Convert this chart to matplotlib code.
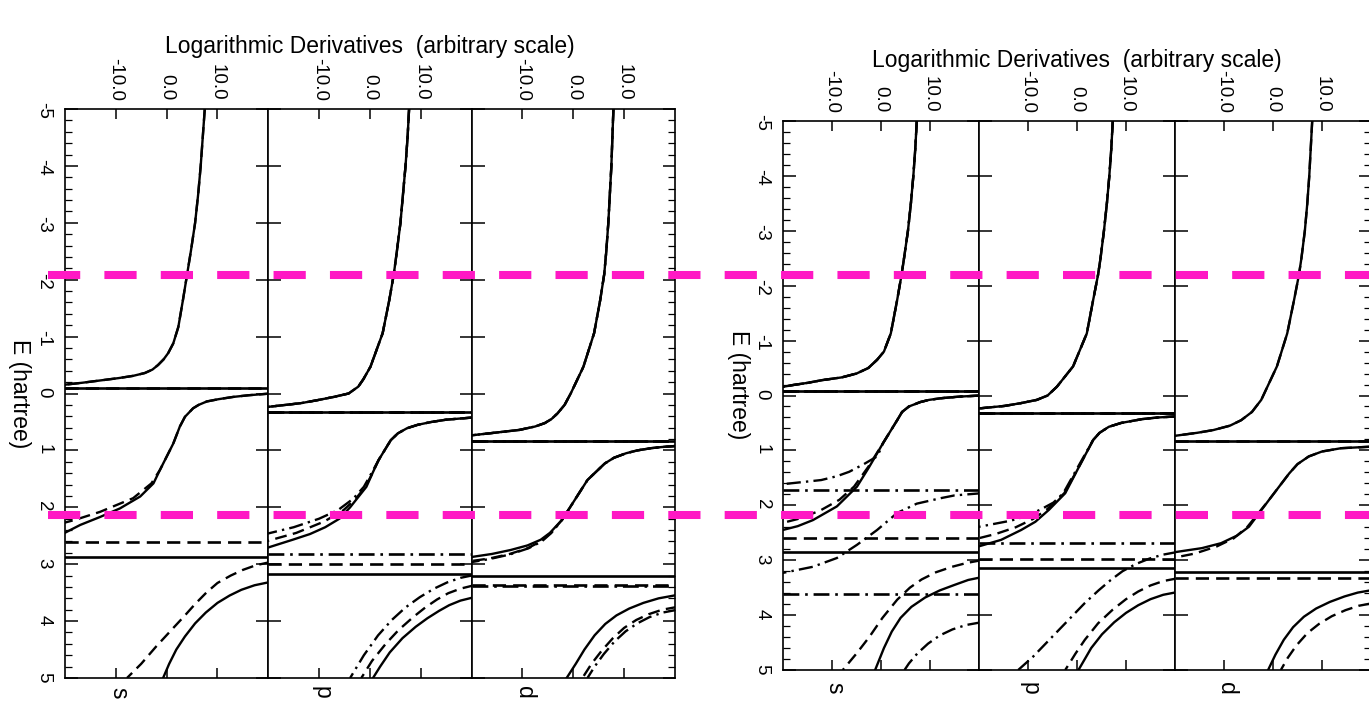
import matplotlib.pyplot as plt
from matplotlib.lines import Line2D
from matplotlib.ticker import MultipleLocator

plt.rcParams['font.family'] = ['Liberation Sans', 'DejaVu Sans']
plt.rcParams['axes.unicode_minus'] = False

orbitals = ['s', 'p', 'd']
x_ticks = [-10, 0, 10]
x_tick_labels = ['-10.0', '0.0', '10.0']
e_ticks = [-5, -4, -3, -2, -1, 0, 1, 2, 3, 4, 5]
e_tick_labels = ['-5', '-4', '-3', '-2', '-1', '0', '1', '2', '3', '4', '5']
title = 'Logarithmic Derivatives  (arbitrary scale)'

# ---------------------------------------------------------------------------
# left figure: branches of the log. derivative, E in hartree
# ---------------------------------------------------------------------------
# s
lft_s_solid_E = [[-5.0, -4.5, -4.0, -3.5, -3.0, -2.52, -2.08, -1.64, -1.17, -0.88, -0.71, -0.6, -0.5, -0.42, -0.36, -0.31, -0.27, -0.23, -0.19, -0.15],
                 [0.0, 0.03, 0.06, 0.1, 0.14, 0.2, 0.26, 0.41, 0.58, 0.88, 1.11, 1.34, 1.58, 1.81, 2.02, 2.17, 2.31, 2.47],
                 [3.31, 3.37, 3.45, 3.55, 3.68, 3.85, 4.04, 4.27, 4.5, 4.75, 5.0]]
lft_s_solid_L = [[7.5, 7.1, 6.7, 6.2, 5.6, 4.8, 4.0, 3.2, 2.3, 1.3, 0.3, -0.6, -1.7, -2.8, -4.3, -6.6, -9.5, -13.0, -16.5, -20.5],
                 [20.5, 16.2, 13.1, 10.2, 7.9, 6.3, 5.2, 3.6, 2.6, 1.3, 0.0, -1.3, -2.6, -5.2, -9.2, -13.1, -17.0, -20.5],
                 [20.5, 17.3, 14.7, 12.4, 10.0, 7.7, 5.6, 3.6, 1.9, 0.5, -0.7]]
lft_s_solid_poles = [-0.10, 2.87]

lft_s_dash_E = [lft_s_solid_E[0],
                [0.0, 0.03, 0.06, 0.1, 0.14, 0.2, 0.26, 0.41, 0.58, 0.88, 1.11, 1.34, 1.58, 1.84, 2.08, 2.22, 2.28],
                [2.96, 3.02, 3.1, 3.2, 3.33, 3.5, 3.7, 3.9, 4.15, 4.45, 4.75, 5.0]]
lft_s_dash_L = [lft_s_solid_L[0],
                [20.5, 16.2, 13.1, 10.2, 7.9, 6.3, 5.2, 3.6, 2.6, 1.3, 0.0, -1.3, -3.0, -6.6, -13.1, -18.0, -20.5],
                [20.5, 17.5, 15.0, 12.6, 10.0, 7.8, 5.6, 3.6, 1.0, -2.1, -5.0, -7.8]]
lft_s_dash_poles = [-0.10, 2.61]

# p
lft_p_solid_E = [[-5.0, -4.5, -4.0, -3.5, -3.0, -2.5, -2.1, -1.64, -1.06, -0.47, -0.25, -0.12, 0.0, 0.06, 0.12, 0.17, 0.24],
                 [0.42, 0.46, 0.5, 0.55, 0.61, 0.7, 0.82, 1.17, 1.4, 1.64, 2.0, 2.2, 2.35, 2.47, 2.57, 2.72],
                 [3.58, 3.64, 3.72, 3.82, 3.95, 4.1, 4.3, 4.55, 4.8, 5.0]]
lft_p_solid_L = [[7.7, 7.4, 7.0, 6.5, 6.0, 5.3, 4.7, 3.8, 2.5, 0.1, -1.3, -2.3, -4.2, -7.1, -10.5, -13.6, -20.5],
                 [20.5, 15.0, 12.1, 9.4, 7.3, 5.5, 4.1, 1.7, 0.5, -0.7, -3.9, -6.0, -8.8, -11.8, -15.2, -20.5],
                 [20.5, 17.8, 15.6, 13.6, 11.3, 9.0, 6.4, 3.9, 2.0, 0.6]]
lft_p_solid_poles = [0.32, 3.17]

lft_p_dash_E = [lft_p_solid_E[0],
                [0.42, 0.46, 0.5, 0.55, 0.61, 0.7, 0.82, 1.17, 1.4, 1.64, 1.85, 2.05, 2.25, 2.45, 2.6],
                [3.37, 3.43, 3.51, 3.62, 3.76, 3.93, 4.16, 4.4, 4.7, 5.0]]
lft_p_dash_L = [lft_p_solid_L[0],
                [20.5, 15.0, 12.1, 9.4, 7.3, 5.5, 4.1, 1.7, 0.5, -0.9, -2.8, -5.2, -9.0, -14.5, -20.5],
                [20.5, 17.8, 15.4, 13.2, 10.9, 8.5, 5.6, 3.1, 0.4, -1.7]]
lft_p_dash_poles = [0.32, 3.0]

lft_p_dashdot_E = [lft_p_solid_E[0],
                   [0.42, 0.46, 0.5, 0.55, 0.61, 0.7, 0.82, 1.17, 1.4, 1.64, 1.85, 2.05, 2.2, 2.35, 2.47],
                   [3.19, 3.24, 3.32, 3.43, 3.58, 3.76, 3.98, 4.25, 4.6, 5.0]]
lft_p_dashdot_L = [lft_p_solid_L[0],
                   [20.5, 15.0, 12.1, 9.4, 7.3, 5.5, 4.1, 1.7, 0.3, -1.2, -3.3, -6.3, -10.0, -15.0, -20.5],
                   [20.5, 17.8, 15.2, 12.6, 9.8, 7.0, 4.3, 1.6, -1.2, -3.9]]
lft_p_dashdot_poles = [0.32, 2.82]

# d
lft_d_solid_E = [[-5.0, -4.5, -4.0, -3.5, -3.0, -2.5, -2.1, -1.64, -1.06, -0.47, 0.0, 0.2, 0.35, 0.45, 0.52, 0.58, 0.64, 0.7, 0.74],
                 [0.92, 0.94, 0.96, 1.0, 1.05, 1.13, 1.23, 1.52, 1.87, 2.22, 2.45, 2.57, 2.67, 2.75, 2.82, 2.88],
                 [3.54, 3.6, 3.68, 3.78, 3.9, 4.05, 4.25, 4.5, 4.75, 5.0]]
lft_d_solid_L = [[7.9, 7.7, 7.5, 7.2, 6.9, 6.5, 6.1, 5.3, 4.1, 2.0, -0.5, -1.7, -3.1, -4.3, -5.6, -7.5, -10.6, -16.5, -20.5],
                 [20.5, 17.5, 15.4, 12.6, 10.4, 8.0, 6.2, 2.8, 0.3, -2.2, -4.6, -6.4, -9.0, -12.3, -16.0, -20.5],
                 [20.5, 16.8, 13.8, 11.0, 8.5, 6.3, 4.2, 2.2, 0.5, -1.3]]
lft_d_solid_poles = [0.83, 3.21]

lft_d_dash_E = [lft_d_solid_E[0],
                [0.92, 0.94, 0.96, 1.0, 1.05, 1.13, 1.23, 1.52, 1.87, 2.22, 2.45, 2.6, 2.72, 2.82, 2.9, 2.95],
                [3.75, 3.8, 3.88, 3.98, 4.12, 4.3, 4.52, 4.75, 5.0]]
lft_d_dash_L = [lft_d_solid_L[0],
                [20.5, 17.5, 15.4, 12.6, 10.4, 8.0, 6.2, 2.8, 0.3, -2.2, -4.4, -6.4, -9.0, -12.5, -16.5, -20.5],
                [20.5, 17.5, 14.8, 12.4, 10.0, 7.8, 5.6, 3.6, 1.8]]
lft_d_dash_poles = [0.83, 3.37]

lft_d_dashdot_E = [lft_d_solid_E[0],
                   [0.92, 0.94, 0.96, 1.0, 1.05, 1.13, 1.23, 1.52, 1.87, 2.22, 2.45, 2.6, 2.72, 2.83, 2.91, 2.97],
                   [3.8, 3.85, 3.93, 4.04, 4.18, 4.36, 4.58, 4.8, 5.0]]
lft_d_dashdot_L = [lft_d_solid_L[0],
                   [20.5, 17.5, 15.4, 12.6, 10.4, 8.0, 6.2, 2.8, 0.3, -2.2, -4.3, -6.2, -8.8, -12.5, -16.5, -20.5],
                   [20.5, 17.6, 15.0, 12.6, 10.3, 8.1, 6.0, 4.2, 2.8]]
lft_d_dashdot_poles = [0.83, 3.39]

# ---------------------------------------------------------------------------
# right figure
# ---------------------------------------------------------------------------
# s
rgt_s_solid_E = [[-5.0, -4.5, -4.0, -3.5, -3.0, -2.5, -2.2, -1.74, -1.13, -0.8, -0.65, -0.5, -0.4, -0.33, -0.28, -0.23, -0.19, -0.15],
                 [0.0, 0.02, 0.05, 0.08, 0.12, 0.2, 0.3, 0.45, 0.87, 1.3, 1.66, 2.02, 2.27, 2.38, 2.46],
                 [3.31, 3.36, 3.45, 3.55, 3.68, 3.85, 4.05, 4.3, 4.6, 5.0]]
rgt_s_solid_L = [[7.3, 7.0, 6.6, 6.1, 5.5, 4.7, 4.2, 3.3, 2.0, 0.6, -0.8, -2.6, -5.0, -8.0, -12.0, -15.0, -18.0, -20.5],
                 [20.5, 16.0, 12.2, 9.8, 8.0, 5.7, 4.3, 3.3, 0.4, -2.4, -4.9, -9.0, -13.9, -17.0, -20.5],
                 [20.5, 17.8, 15.0, 12.0, 9.0, 6.2, 4.0, 2.2, 0.6, -1.2]]
rgt_s_solid_poles = [-0.09, 2.85]

rgt_s_dash_E = [rgt_s_solid_E[0],
                [0.0, 0.02, 0.05, 0.08, 0.12, 0.2, 0.3, 0.45, 0.87, 1.3, 1.66, 1.9, 2.1, 2.25, 2.33],
                [3.0, 3.05, 3.12, 3.22, 3.35, 3.5, 3.72, 4.05, 4.4, 4.7, 5.0]]
rgt_s_dash_L = [rgt_s_solid_L[0],
                [20.5, 16.0, 12.2, 9.8, 8.0, 5.7, 4.3, 3.3, 0.4, -2.6, -5.5, -8.5, -12.5, -17.0, -20.5],
                [20.5, 17.5, 14.5, 11.2, 8.3, 5.9, 3.3, 0.3, -2.4, -5.0, -7.8]]
rgt_s_dash_poles = [-0.09, 2.60]

rgt_s_dashdot_E = [rgt_s_solid_E[0],
                   [0.0, 0.02, 0.05, 0.08, 0.12, 0.2, 0.3, 0.45, 0.87, 1.0, 1.11, 1.25, 1.39, 1.47, 1.54, 1.62],
                   [1.78, 1.82, 1.87, 1.97, 2.14, 2.45, 2.72, 2.96, 3.12, 3.24],
                   [4.13, 4.18, 4.26, 4.37, 4.52, 4.7, 4.88, 5.0]]
rgt_s_dashdot_L = [rgt_s_solid_L[0],
                   [20.5, 16.0, 12.2, 9.8, 8.0, 5.7, 4.3, 3.3, 0.4, -0.2, -0.8, -3.5, -6.5, -9.0, -12.2, -20.5],
                   [20.5, 15.0, 12.2, 7.3, 3.3, -0.8, -4.9, -9.0, -13.9, -20.5],
                   [20.5, 17.4, 14.6, 12.0, 9.6, 7.4, 5.7, 4.8]]
rgt_s_dashdot_poles = [-0.09, 1.73, 3.62]

# p
rgt_p_solid_E = [[-5.0, -4.5, -4.0, -3.5, -3.0, -2.5, -2.2, -1.74, -1.13, -0.53, -0.16, 0.0, 0.08, 0.14, 0.19, 0.24],
                 [0.38, 0.4, 0.43, 0.5, 0.57, 0.68, 0.81, 1.3, 1.78, 2.08, 2.3, 2.45, 2.63, 2.76],
                 [3.58, 3.63, 3.71, 3.82, 3.96, 4.13, 4.35, 4.6, 5.0]]
rgt_p_solid_L = [[7.3, 7.0, 6.6, 6.1, 5.5, 4.8, 4.3, 3.3, 2.0, -0.8, -4.1, -6.0, -8.2, -11.5, -14.8, -20.5],
                 [20.5, 16.5, 13.3, 9.0, 6.5, 4.6, 3.3, 0.4, -2.4, -5.7, -8.5, -11.4, -15.5, -20.5],
                 [20.5, 17.6, 15.0, 12.5, 10.0, 7.6, 5.1, 2.9, 0.3]]
rgt_p_solid_poles = [0.31, 3.15]

rgt_p_dash_E = [rgt_p_solid_E[0],
                [0.38, 0.4, 0.43, 0.5, 0.57, 0.68, 0.81, 1.3, 1.78, 2.08, 2.25, 2.4, 2.52, 2.61],
                [3.33, 3.38, 3.46, 3.57, 3.71, 3.9, 4.15, 4.45, 4.7, 5.0]]
rgt_p_dash_L = [rgt_p_solid_L[0],
                [20.5, 16.5, 13.3, 9.0, 6.5, 4.6, 3.3, 0.4, -2.6, -6.2, -9.0, -12.5, -16.5, -20.5],
                [20.5, 17.6, 15.0, 12.5, 10.0, 7.3, 4.3, 1.6, -0.3, -2.4]]
rgt_p_dash_poles = [0.31, 2.98]

rgt_p_dashdot_E = [rgt_p_solid_E[0],
                   [0.38, 0.4, 0.43, 0.5, 0.57, 0.68, 0.81, 1.3, 1.78, 1.95, 2.08, 2.2, 2.28, 2.4],
                   [2.85, 2.9, 2.97, 3.07, 3.2, 3.36, 3.55, 3.78, 4.27, 4.76, 5.0]]
rgt_p_dashdot_L = [rgt_p_solid_L[0],
                   [20.5, 16.5, 13.3, 9.0, 6.5, 4.6, 3.3, 0.2, -2.8, -4.8, -7.5, -10.5, -13.5, -20.5],
                   [20.5, 17.5, 14.8, 12.0, 9.3, 6.9, 4.4, 1.6, -3.7, -9.0, -12.0]]
rgt_p_dashdot_poles = [0.31, 2.68]

# d
rgt_d_solid_E = [[-5.0, -4.5, -4.0, -3.5, -3.0, -2.5, -2.2, -1.74, -1.13, -0.53, 0.08, 0.3, 0.45, 0.55, 0.63, 0.68, 0.74],
                 [0.93, 0.96, 1.02, 1.11, 1.25, 1.42, 1.9, 2.39, 2.55, 2.69, 2.78, 2.86],
                 [3.54, 3.59, 3.66, 3.76, 3.88, 4.03, 4.22, 4.45, 4.72, 5.0]]
rgt_d_solid_L = [[8.0, 7.7, 7.4, 7.0, 6.5, 5.8, 5.3, 4.3, 2.9, 0.8, -2.4, -4.3, -6.5, -8.8, -12.2, -15.5, -20.5],
                 [20.5, 13.9, 10.0, 7.3, 5.0, 3.3, -0.8, -4.9, -7.3, -10.6, -14.5, -20.5],
                 [20.5, 17.3, 14.6, 11.6, 8.8, 6.3, 4.1, 2.2, 0.5, -1.0]]
rgt_d_solid_poles = [0.82, 3.21]

rgt_d_dash_E = [rgt_d_solid_E[0],
                [0.93, 0.96, 1.02, 1.11, 1.25, 1.42, 1.9, 2.39, 2.6, 2.75, 2.88, 2.96],
                [3.78, 3.83, 3.91, 4.02, 4.16, 4.33, 4.55, 4.78, 5.0]]
rgt_d_dash_L = [rgt_d_solid_L[0],
                [20.5, 13.9, 10.0, 7.3, 5.0, 3.3, -0.8, -5.2, -8.0, -11.5, -16.0, -20.5],
                [20.5, 17.5, 14.8, 12.0, 9.4, 7.0, 4.8, 3.0, 1.6]]
rgt_d_dash_poles = [0.82, 3.33]

# line styles of the three potentials
SOLID = '-'
DASH = (0, (5.0, 2.7))
DASHDOT = (0, (6.0, 2.2, 1.0, 2.2))

left_panels = [
    [(lft_s_solid_E, lft_s_solid_L, lft_s_solid_poles, SOLID),
     (lft_s_dash_E, lft_s_dash_L, lft_s_dash_poles, DASH)],
    [(lft_p_solid_E, lft_p_solid_L, lft_p_solid_poles, SOLID),
     (lft_p_dash_E, lft_p_dash_L, lft_p_dash_poles, DASH),
     (lft_p_dashdot_E, lft_p_dashdot_L, lft_p_dashdot_poles, DASHDOT)],
    [(lft_d_solid_E, lft_d_solid_L, lft_d_solid_poles, SOLID),
     (lft_d_dash_E, lft_d_dash_L, lft_d_dash_poles, DASH),
     (lft_d_dashdot_E, lft_d_dashdot_L, lft_d_dashdot_poles, DASHDOT)],
]
right_panels = [
    [(rgt_s_solid_E, rgt_s_solid_L, rgt_s_solid_poles, SOLID),
     (rgt_s_dash_E, rgt_s_dash_L, rgt_s_dash_poles, DASH),
     (rgt_s_dashdot_E, rgt_s_dashdot_L, rgt_s_dashdot_poles, DASHDOT)],
    [(rgt_p_solid_E, rgt_p_solid_L, rgt_p_solid_poles, SOLID),
     (rgt_p_dash_E, rgt_p_dash_L, rgt_p_dash_poles, DASH),
     (rgt_p_dashdot_E, rgt_p_dashdot_L, rgt_p_dashdot_poles, DASHDOT)],
    [(rgt_d_solid_E, rgt_d_solid_L, rgt_d_solid_poles, SOLID),
     (rgt_d_dash_E, rgt_d_dash_L, rgt_d_dash_poles, DASH)],
]

# markers for two reference energies, drawn over both figures
ref_line_y = [274.5, 515.0]

W, H = 1369, 712
fig = plt.figure(figsize=(W / 100, H / 100), dpi=100)


def draw_block(x0, y0, pw, ph, panels, title_y, label_y, elabel_y):
    for k, name in enumerate(orbitals):
        ax = fig.add_axes([(x0 + k * pw) / W, 1 - (y0 + ph) / H, pw / W, ph / H])
        ax.set_xlim(-20, 20)
        ax.set_ylim(5, -5)
        for E_br, L_br, poles, ls in panels[k]:
            for E, L in zip(E_br, L_br):
                ax.plot(L, E, color='black', lw=1.7, ls=ls, solid_joinstyle='round')
            for p in poles:
                ax.axhline(p, color='black', lw=1.9, ls=ls)

        for sp in ax.spines.values():
            sp.set_linewidth(1.2)

        ax.set_xticks(x_ticks)
        ax.set_xticklabels(x_tick_labels)
        ax.tick_params(axis='x', direction='in', length=7.5, width=1.1,
                       top=True, bottom=True, labeltop=True, labelbottom=False,
                       labelrotation=-90, labelsize=13.5, pad=6)

        ax.set_yticks(e_ticks)
        ax.yaxis.set_minor_locator(MultipleLocator(0.2))
        ax.tick_params(axis='y', which='major', direction='in', length=9, width=1.1,
                       left=True, right=True, labelleft=(k == 0),
                       labelsize=13.5, labelrotation=-90, pad=9)
        ax.tick_params(axis='y', which='minor', direction='in', length=5, width=0.9,
                       left=(k == 0), right=(k == 2))
        if k == 0:
            ax.set_yticklabels(e_tick_labels)
            ax.text(-0.225, elabel_y, 'E (hartree)', transform=ax.transAxes, rotation=-90,
                    ha='center', va='center', fontsize=16.5)

        ax.text(-9.5, label_y, name, transform=ax.get_xaxis_transform(), rotation=-90,
                ha='center', va='center', fontsize=16.5)

    fig.text((x0 + 1.5 * pw) / W, 1 - title_y / H, title, ha='center', va='center', fontsize=16.5)


draw_block(65, 109, 203.3, 569, left_panels, 46, -0.026, 0.5)
draw_block(783, 121, 196, 549, right_panels, 61, -0.033, 0.52)

for y in ref_line_y:
    fig.add_artist(Line2D([48 / W, 1.0], [1 - y / H, 1 - y / H], transform=fig.transFigure,
                          color='#ff18c4', lw=5.8, ls=(0, (4.0, 3.0)),
                          dash_capstyle='butt', zorder=10))

fig.savefig('out.png', dpi=100)
